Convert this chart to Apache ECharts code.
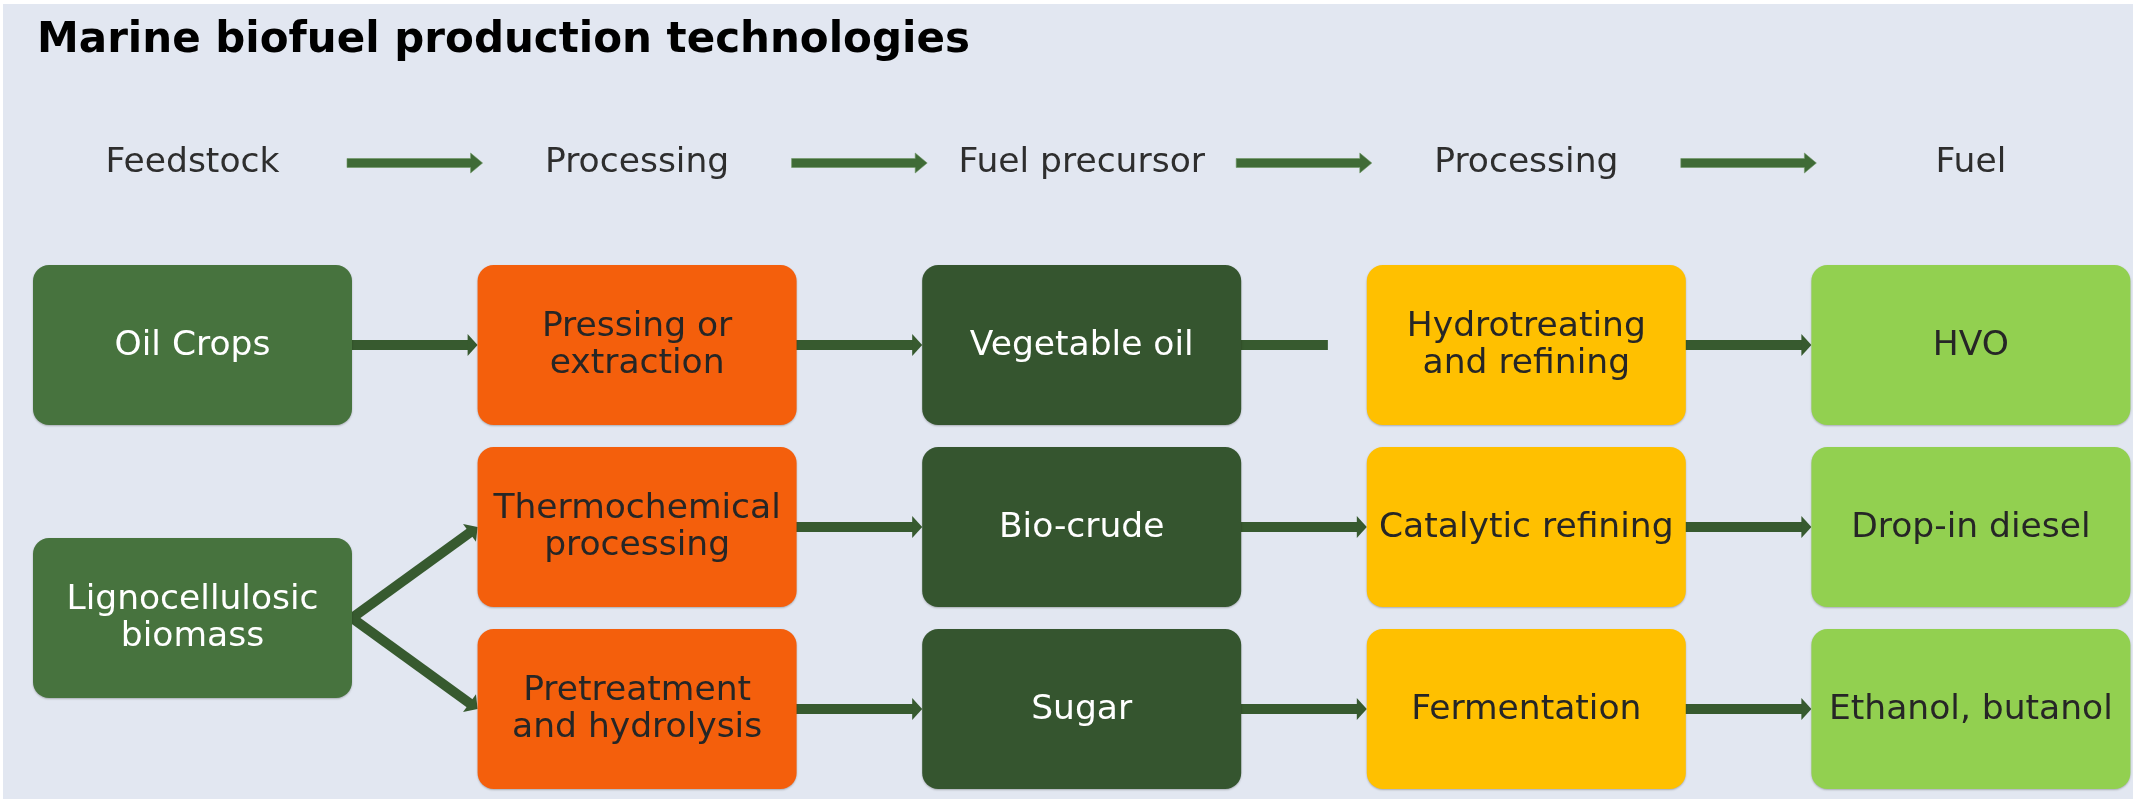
<!DOCTYPE html>
<html><head><meta charset="utf-8">
<script src="https://cdn.jsdelivr.net/npm/echarts@6/dist/echarts.min.js"></script>
<style>
html,body{margin:0;padding:0;background:#ffffff;overflow:hidden;}
#bg{position:absolute;left:3px;top:4px;width:2130px;height:795px;background:#E2E7F1;}
#c{position:absolute;left:0;top:0;width:2133px;height:799px;}
</style>
</head><body><div id="bg"></div><div id="c"></div>
<script>
// ---- data ----
const chartTitle = 'Marine biofuel production technologies';
const stageHeaders = ['Feedstock', 'Processing', 'Fuel precursor', 'Processing', 'Fuel'];
const nodeLabels = [
  'Oil Crops', 'Lignocellulosic\nbiomass',
  'Pressing or\nextraction', 'Thermochemical\nprocessing', 'Pretreatment\nand hydrolysis',
  'Vegetable oil', 'Bio-crude', 'Sugar',
  'Hydrotreating\nand refining', 'Catalytic refining', 'Fermentation',
  'HVO', 'Drop-in diesel', 'Ethanol, butanol'
];
const nodeStage = [0, 0, 1, 1, 1, 2, 2, 2, 3, 3, 3, 4, 4, 4];
const nodeRow   = [0, 1.5, 0, 1, 2, 0, 1, 2, 0, 1, 2, 0, 1, 2];
const arrowLinks = [[0, 2], [1, 3], [1, 4], [2, 5], [3, 6], [4, 7], [6, 9], [7, 10], [8, 11], [9, 12], [10, 13]];
const openLinks = [[5, 8]];

// ---- styles / layout ----
const STAGE_FILL = ['#47733E', '#F45F0C', '#35552F', '#FFC000', '#92D050'];
const STAGE_TEXT = ['#FFFFFF', '#262626', '#FFFFFF', '#262626', '#262626'];
const BOX_W = 0.7175;   // in stage units
const BOX_H = 0.879;    // in row units
const FONT = '"DejaVu Sans", Verdana, sans-serif';
const LINK_COLOR = '#375A2F';
const HEAD_COLOR = '#3F6B36';

const nodeData = nodeLabels.map((_, i) => [nodeStage[i], nodeRow[i], i]);
const linkData = arrowLinks.map(l => [l[0], l[1], 0]).concat(openLinks.map(l => [l[0], l[1], 1]));
const headerData = stageHeaders.map((_, i) => [i, -1, i]);
const headerArrowData = stageHeaders.slice(0, -1).map((_, i) => [i, -1]);

function renderBox(params, api) {
  const s = api.value(0), r = api.value(1), i = api.value(2);
  const a = api.coord([s - BOX_W / 2, r - BOX_H / 2]);
  const b = api.coord([s + BOX_W / 2, r + BOX_H / 2]);
  const x = Math.min(a[0], b[0]), y = Math.min(a[1], b[1]);
  const w = Math.abs(b[0] - a[0]), h = Math.abs(b[1] - a[1]);
  return {
    type: 'group',
    children: [
      { type: 'rect', shape: { x: x, y: y, width: w, height: h, r: 16 },
        style: { fill: STAGE_FILL[s], shadowBlur: 2, shadowColor: 'rgba(0,0,0,0.25)', shadowOffsetY: 1 } },
      { type: 'text', x: x + w / 2, y: y + h / 2 + 1,
        style: { text: nodeLabels[i], fill: STAGE_TEXT[s], fontSize: 34.5, fontFamily: FONT,
                 align: 'center', verticalAlign: 'middle', lineHeight: 37 } }
    ]
  };
}

function renderLink(params, api) {
  const si = api.value(0), ti = api.value(1), open = api.value(2);
  const s = api.coord([nodeStage[si] + BOX_W / 2, nodeRow[si]]);
  let e = api.coord([nodeStage[ti] - BOX_W / 2, nodeRow[ti]]);
  let dx = e[0] - s[0], dy = e[1] - s[1];
  const len = Math.sqrt(dx * dx + dy * dy);
  const ux = dx / len, uy = dy / len;
  const start = [s[0] - ux * 6, s[1] - uy * 6];
  if (open) {
    const f = 0.69;
    return { type: 'line', shape: { x1: start[0], y1: start[1], x2: s[0] + dx * f, y2: s[1] + dy * f },
             style: { stroke: LINK_COLOR, lineWidth: 10, lineCap: 'butt' } };
  }
  const HL = 10, HW = 22;
  const bx = e[0] - ux * HL, by = e[1] - uy * HL;
  const px = -uy, py = ux;
  return {
    type: 'group',
    children: [
      { type: 'line', shape: { x1: start[0], y1: start[1], x2: bx + ux, y2: by + uy },
        style: { stroke: LINK_COLOR, lineWidth: 10, lineCap: 'butt' } },
      { type: 'polygon', shape: { points: [[e[0], e[1]], [bx + px * HW / 2, by + py * HW / 2], [bx - px * HW / 2, by - py * HW / 2]] },
        style: { fill: LINK_COLOR } }
    ]
  };
}

const HA = 0.3475;
function renderHeaderArrow(params, api) {
  const c = api.value(0), r = api.value(1);
  const s = api.coord([c + HA, r]);
  const e = api.coord([c + 1 - HA, r]);
  const HL = 12, HW = 20, SW = 9;
  const y = s[1];
  return {
    type: 'polygon',
    shape: { points: [
      [s[0], y - SW / 2], [e[0] - HL, y - SW / 2], [e[0] - HL, y - HW / 2], [e[0], y],
      [e[0] - HL, y + HW / 2], [e[0] - HL, y + SW / 2], [s[0], y + SW / 2]
    ] },
    style: { fill: HEAD_COLOR, stroke: 'rgba(110,150,100,0.6)', lineWidth: 1 }
  };
}

function renderHeader(params, api) {
  const p = api.coord([api.value(0), api.value(1)]);
  return { type: 'text', x: p[0], y: p[1],
           style: { text: stageHeaders[api.value(2)], fill: '#2E2E2E', fontSize: 34.5, fontFamily: FONT,
                    align: 'center', verticalAlign: 'middle' } };
}

const chart = echarts.init(document.getElementById('c'), null, { renderer: 'canvas' });
chart.setOption({
  backgroundColor: 'transparent',
  animation: false,
  title: {
    text: chartTitle, left: 32, top: 15,
    textStyle: { fontFamily: FONT, fontWeight: 'bold', fontSize: 42, color: '#000000' }
  },
  grid: { left: 0, right: 0, top: 0, bottom: 0 },
  xAxis: { type: 'value', min: -192.5 / 444.6, max: (2133 - 192.5) / 444.6, show: false },
  yAxis: { type: 'value', inverse: true, min: -345 / 182, max: (799 - 345) / 182, show: false },
  series: [
    { type: 'custom', name: 'links', renderItem: renderLink, data: linkData, z: 2, silent: true },
    { type: 'custom', name: 'boxes', renderItem: renderBox, data: nodeData, z: 3, silent: true },
    { type: 'custom', name: 'headerArrows', renderItem: renderHeaderArrow, data: headerArrowData, z: 2, silent: true },
    { type: 'custom', name: 'headers', renderItem: renderHeader, data: headerData, z: 3, silent: true }
  ]
});
</script>
</body></html>
